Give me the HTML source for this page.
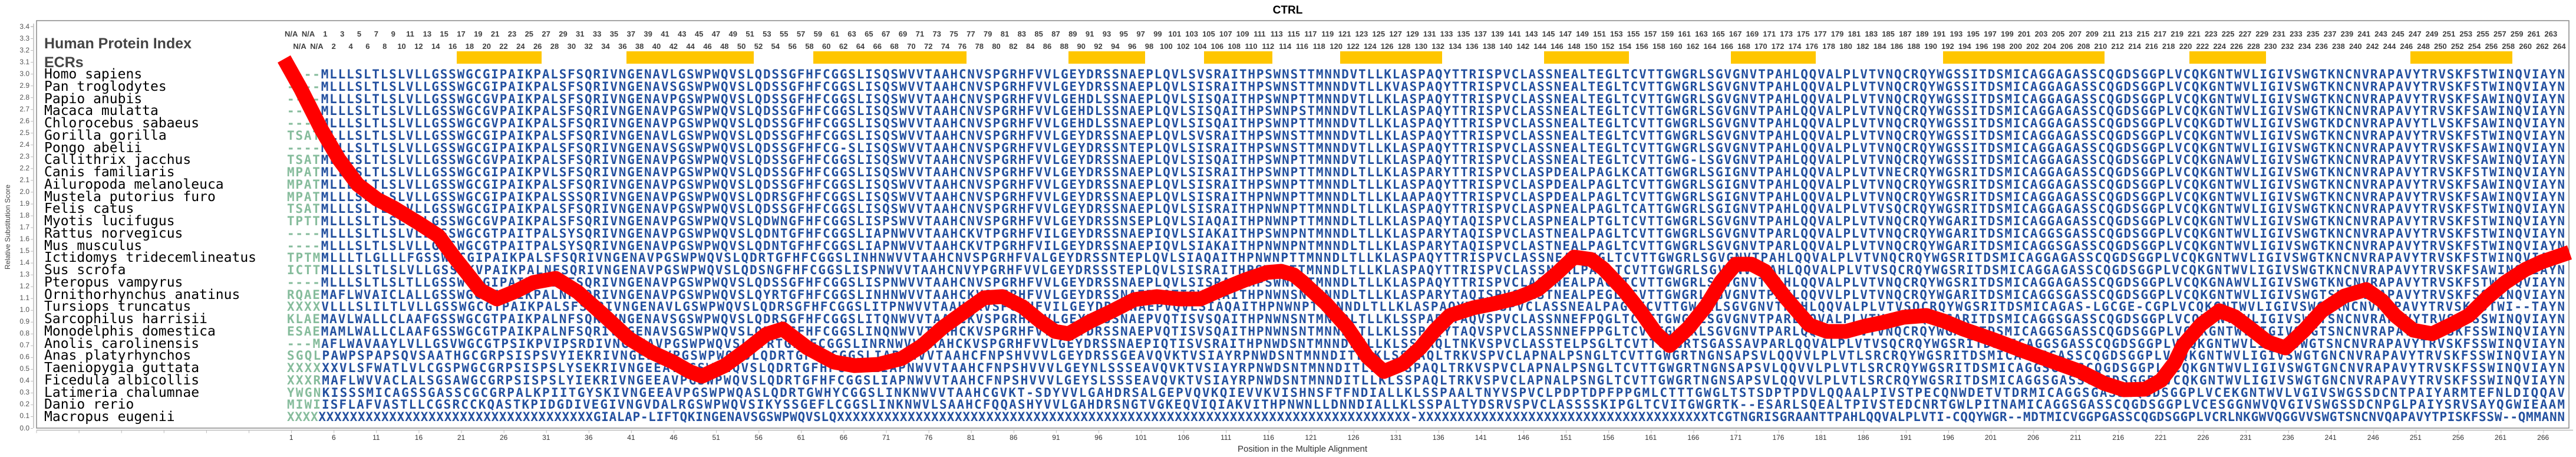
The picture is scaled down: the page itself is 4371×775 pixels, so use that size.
<!DOCTYPE html>
<html><head><meta charset="utf-8">
<style>
html,body{margin:0;padding:0;background:#fff;}
body{width:4371px;height:775px;position:relative;overflow:hidden;font-family:"Liberation Sans",sans-serif;}
.row{position:absolute;display:flex;white-space:nowrap;}
.row span{flex:none;text-align:center;}
.t1,.t2{font-weight:bold;font-size:13px;color:#404040;line-height:16px;}
.t1 span,.t2 span{width:28.84px;}
.bx{font-size:12px;color:#333;line-height:16px;}
.bx span{width:72.1px;}
svg{position:absolute;left:0;top:0;}
</style></head><body>
<svg width="4371" height="775" viewBox="0 0 4371 775" xmlns="http://www.w3.org/2000/svg">
<text x="2185" y="23" font-family="Liberation Sans, sans-serif" font-weight="bold" font-size="19" text-anchor="middle" fill="#000">CTRL</text>
<rect x="62" y="35" width="4297" height="691" fill="none" stroke="#888" stroke-width="1.5"/>
<line x1="57" y1="40" x2="57" y2="726" stroke="#bbb" stroke-width="1.5"/>
<line x1="52" y1="45" x2="57" y2="45" stroke="#bbb"/>
<line x1="54" y1="45" x2="54" y2="727" stroke="#bbb" stroke-width="4" stroke-dasharray="1 19.03"/>
<line x1="62" y1="729.5" x2="4366" y2="729.5" stroke="#bbb" stroke-width="1.5"/>
<line x1="61.5" y1="732" x2="4366" y2="732" stroke="#bbb" stroke-width="5" stroke-dasharray="1 71.1"/>
<g font-family="Liberation Sans, sans-serif" font-size="12" fill="#555" text-anchor="end">
<text x="50" y="49">3.4</text><text x="50" y="69">3.3</text><text x="50" y="89">3.2</text><text x="50" y="109">3.1</text><text x="50" y="129">3.0</text><text x="50" y="149">2.9</text><text x="50" y="169">2.8</text><text x="50" y="189">2.7</text><text x="50" y="209">2.6</text><text x="50" y="229">2.5</text><text x="50" y="249">2.4</text><text x="50" y="269">2.3</text><text x="50" y="289">2.2</text><text x="50" y="309">2.1</text><text x="50" y="329">2.0</text><text x="50" y="349">1.9</text><text x="50" y="369">1.8</text><text x="50" y="389">1.7</text><text x="50" y="409">1.6</text><text x="50" y="429">1.5</text><text x="50" y="449">1.4</text><text x="50" y="469">1.3</text><text x="50" y="489">1.2</text><text x="50" y="509">1.1</text><text x="50" y="529">1.0</text><text x="50" y="549">0.9</text><text x="50" y="569">0.8</text><text x="50" y="589">0.7</text><text x="50" y="609">0.6</text><text x="50" y="629">0.5</text><text x="50" y="649">0.4</text><text x="50" y="669">0.3</text><text x="50" y="689">0.2</text><text x="50" y="709">0.1</text><text x="50" y="730">0.0</text>
</g>
<text transform="translate(17,385) rotate(-90)" font-family="Liberation Sans, sans-serif" font-size="12" fill="#444" text-anchor="middle">Relative Substitution Score</text>
<text x="2210" y="766" font-family="Liberation Sans, sans-serif" font-size="15" fill="#333" text-anchor="middle">Position in the Multiple Alignment</text>
<text x="75" y="82" font-family="Liberation Sans, sans-serif" font-weight="bold" font-size="25" fill="#444">Human Protein Index</text>
<text x="75" y="114" font-family="Liberation Sans, sans-serif" font-weight="bold" font-size="25" fill="#444">ECRs</text>
<g fill="#ffc600">
<rect x="775" y="87" width="144" height="21"/>
<rect x="1063" y="87" width="216" height="21"/>
<rect x="1380" y="87" width="260" height="21"/>
<rect x="1813" y="87" width="130" height="21"/>
<rect x="2043" y="87" width="116" height="21"/>
<rect x="2274" y="87" width="173" height="21"/>
<rect x="2620" y="87" width="144" height="21"/>
<rect x="2937" y="87" width="144" height="21"/>
<rect x="3297" y="87" width="274" height="21"/>
<rect x="3715" y="87" width="130" height="21"/>
<rect x="4090" y="87" width="173" height="21"/>
</g>
<g font-family="DejaVu Sans Mono, monospace" font-size="23" fill="#000">
<text x="75" y="133">Homo sapiens</text>
<text x="75" y="154">Pan troglodytes</text>
<text x="75" y="175">Papio anubis</text>
<text x="75" y="195">Macaca mulatta</text>
<text x="75" y="216">Chlorocebus sabaeus</text>
<text x="75" y="237">Gorilla gorilla</text>
<text x="75" y="258">Pongo abelii</text>
<text x="75" y="278">Callithrix jacchus</text>
<text x="75" y="299">Canis familiaris</text>
<text x="75" y="320">Ailuropoda melanoleuca</text>
<text x="75" y="341">Mustela putorius furo</text>
<text x="75" y="361">Felis catus</text>
<text x="75" y="382">Myotis lucifugus</text>
<text x="75" y="403">Rattus norvegicus</text>
<text x="75" y="424">Mus musculus</text>
<text x="75" y="444">Ictidomys tridecemlineatus</text>
<text x="75" y="465">Sus scrofa</text>
<text x="75" y="486">Pteropus vampyrus</text>
<text x="75" y="507">Ornithorhynchus anatinus</text>
<text x="75" y="527">Tursiops truncatus</text>
<text x="75" y="548">Sarcophilus harrisii</text>
<text x="75" y="569">Monodelphis domestica</text>
<text x="75" y="590">Anolis carolinensis</text>
<text x="75" y="610">Anas platyrhynchos</text>
<text x="75" y="631">Taeniopygia guttata</text>
<text x="75" y="652">Ficedula albicollis</text>
<text x="75" y="673">Latimeria chalumnae</text>
<text x="75" y="693">Danio rerio</text>
<text x="75" y="714">Macropus eugenii</text>
</g>
<g font-family="DejaVu Sans Mono, monospace" font-weight="bold" font-size="21" fill="#23509f">
<text x="487" y="133" textLength="3865" lengthAdjust="spacing"><tspan fill="#86bc9c">----</tspan>MLLLSLTLSLVLLGSSWGCGIPAIKPALSFSQRIVNGENAVLGSWPWQVSLQDSSGFHFCGGSLISQSWVVTAAHCNVSPGRHFVVLGEYDRSSNAEPLQVLSVSRAITHPSWNSTTMNNDVTLLKLASPAQYTTRISPVCLASSNEALTEGLTCVTTGWGRLSGVGNVTPAHLQQVALPLVTVNQCRQYWGSSITDSMICAGGAGASSCQGDSGGPLVCQKGNTWVLIGIVSWGTKNCNVRAPAVYTRVSKFSTWINQVIAYN</text>
<text x="487" y="154" textLength="3865" lengthAdjust="spacing"><tspan fill="#86bc9c">----</tspan>MLLLSLTLSLVLLGSSWGCGIPAIKPALSFSQRIVNGENAVSGSWPWQVSLQDSSGFHFCGGSLISQSWVVTAAHCNVSPGRHFVVLGEYDRSSNAEPLQVLSISRAITHPSWNSTTMNNDVTLLKVASPAQYTTRISPVCLASSNEALTEGLTCVTTGWGRLSGVGNVTPAHLQQVALPLVTVNQCRQYWGSSITDSMICAGGAGASSCQGDSGGPLVCQKGNTWVLIGIVSWGTKNCNVRAPAVYTRVSKFSTWINQVIAYN</text>
<text x="487" y="175" textLength="3865" lengthAdjust="spacing"><tspan fill="#86bc9c">----</tspan>MLLLSLTLSLVLLGSSWGCGVPAIKPALSFSQRIVNGENAVPGSWPWQVSLQDSSGFHFCGGSLISQSWVVTAAHCNVSPGRHFVVLGEHDLSSNAEPLQVLSISQAITHPSWNPTTMNNDVTLLKLASPAQYTTRISPVCLASSNEALTEGLTCVTTGWGRLSGVGNVTPAHLQQVALPLVTVNQCRQYWGSSITDSMICAGGAGASSCQGDSGGPLVCQKGNTWVLIGIVSWGTKNCNVRAPAVYTRVSKFSAWINQVIAYN</text>
<text x="487" y="195" textLength="3865" lengthAdjust="spacing"><tspan fill="#86bc9c">----</tspan>MLLLSLTLSLVLLGSSWGCGVPAIKPALSFSQRIVNGENAVPGSWPWQVSLQDSSGFHFCGGSLISQSWVVTAAHCNVSPGRHFVVLGEHDLSSNAEPLQVLSISQAITHPSWNPSTMNNDVTLLKLASPAQYTTRISPVCLASSNEALTEGLTCVTTGWGRLSGVGNVTPAHLQQVALPLVTVNQCRQYWGSSITDSMICAGGAGASSCQGDSGGPLVCQKGNTWVLIGIVSWGTKNCNVRAPAVYTRVSKFSAWINQVIAYN</text>
<text x="487" y="216" textLength="3865" lengthAdjust="spacing"><tspan fill="#86bc9c">----</tspan>MLLLSLTLSLVLLGSSWGCGVPAIKPALSFSQRIVNGENAVPGSWPWQVSLQDSSGFHFCGGSLISQSWVVTAAHCNVSPGRHFVVLGEHDLSSNAEPLQVLSISQAITHPSWNPTTMNNDVTLLKLASPAQYTTRISPVCLASSNEALTEGLTCVTTGWGRLSGVGNVTPAHLQQVALPLVTVNQCRQYWGSSITDSMICAGGAGASSCQGDSGGPLVCQKGDTWVLIGIVSWGTKDCNVRAPAVYTLVSKFSAWINQVIAYN</text>
<text x="487" y="237" textLength="3865" lengthAdjust="spacing"><tspan fill="#86bc9c">TSAT</tspan>MLLLSLTLSLVLLGSSWGCGIPAIKPALSFSQRIVNGENAVLGSWPWQVSLQDSSGFHFCGGSLISQSWVVTAAHCNVSPGRHFVVLGEYDRSSNAEPLQVLSVSRAITHPSWNSTTMNNDVTLLKLASPAQYTTRISPVCLASSNEALTEGLTCVTTGWGRLSGVGNVTPAHLQQVALPLVTVNQCRQYWGSSITDSMICAGGAGASSCQGDSGGPLVCQKGNTWVLIGIVSWGTKNCNVRAPAVYTRVSKFSTWINQVIAYN</text>
<text x="487" y="258" textLength="3865" lengthAdjust="spacing"><tspan fill="#86bc9c">----</tspan>MLLLSLTLSLVLLGSSWGCGIPAIKPALSFSQRIVNGENAVSGSWPWQVSLQDSSGFHFCG-SLISQSWVVTAAHCNVSPGRHFVVLGEYDRSSNTEPLQVLSISRAITHPSWNSTTMNNDVTLLKLASPAQYTTRISPVCLASSNEALTEGLTCVTTGWGRLSGVGNVTPAHLQQVALPLVTVNQCRQYWGSSITDSMICAGGAGASSCQGDSGGPLVCQKGNTWVLIGIVSWGTKNCNVRAPAVYTRVSKFSAWINQVIAYN</text>
<text x="487" y="278" textLength="3865" lengthAdjust="spacing"><tspan fill="#86bc9c">TSAT</tspan>MLLLSLTLSLVLLGSSWGCGVPAIKPALSFSQRIVNGENAVPGSWPWQVSLQDSSGFHFCGGSLISQSWVVTAAHCNVSPGRHFVVLGEYDRSSNAEPLQVLSISQAITHPSWNPTTMNNDVTLLKLASPAQYTTRISPVCLASSNEALTEGLTCVTTGWG-LSGVGNVTPAHLQQVALPLVTVNQCRQYWGSSITDSMICAGGAGASSCQGDSGGPLVCQKGNAWVLIGIVSWGTKNCNVRAPAVYTRVSKFSAWINQVIAYN</text>
<text x="487" y="299" textLength="3865" lengthAdjust="spacing"><tspan fill="#86bc9c">MPAT</tspan>MLLLSLTLSLVLLGSSWGCGIPAIKPVLSFSQRIVNGENAVPGSWPWQVSLQDSSGFHFCGGSLISQSWVVTAAHCNVSPGRHFVVLGEYDRSSNAEPLQVLSISRAITHPSWNPTTMNNDLTLLKLASPARYTTRISPVCLASPDEALPAGLKCATTGWGRLSGIGNVTPAHLQQVALPLVTVNECRQYWGSRITDSMICAGGAGASSCQGDSGGPLVCQKGNTWVLIGIVSWGTKNCNVRAPAVYTRVSKFSTWINQVIAYN</text>
<text x="487" y="320" textLength="3865" lengthAdjust="spacing"><tspan fill="#86bc9c">MPAT</tspan>MLLLSLTLSLVLLGSSWGCGIPAIKPALSFSQRIVNGENAVPGSWPWQVSLQDSSGFHFCGGSLISQSWVVTAAHCNVSPGRHFVVLGEYDRSSNAEPLQVLSISRAITHPSWNPTTMNNDLTLLKLASPAQYTTRISPVCLASPDEALPAGLTCVTTGWGRLSGIGNVTPAHLQQVALPLVTVNQCRQYWGSRITDSMICAGGAGASSCQGDSGGPLVCQKGNTWVLIGIVSWGTKNCNVRAPAVYTRVSKFSAWINQVIAYN</text>
<text x="487" y="341" textLength="3865" lengthAdjust="spacing"><tspan fill="#86bc9c">MPAT</tspan>MLLLSLTLSLVLLGSSWGCGIPAIKPALSSSQRIVNGENAVPGSWPWQVSLQDRSGFHFCGGSLISQSWVVTAAHCNVSPGRHFVVLGEYDRSSNAEPLQVLSISRAITHPNWNPTTMNNDLTLLKLAAPAQYTTRISPVCLASPDEALPAGLTCVTTGWGRLSGIGNVTPAHLQQVALPLVTVNQCRQYWGSRITDSMICAGGAGASSCQGDSGGPLVCQKGNTWVLIGIVSWGTKNCNVRAPAVYTRVSKFSAWINQVIAYN</text>
<text x="487" y="361" textLength="3865" lengthAdjust="spacing"><tspan fill="#86bc9c">TSAT</tspan>MLLLSLTLSLVLLGSSWGCGIPAIKPALSFSQRIVNGENAVPGSWPWQVSLQDSSGFHFCGGSLISQSWVVTAAHCNVSPGRHFVVLGEYDRSSNAEPLQVLSISRAITHPNWNPTTMNNDLTLLKLASPAQYTTRISPVCLASPNEALPAGLTCATTGWGRLSGIGNVTPAHLQQVALPLVTVSQCRQYWGSRITDSMICAGGAGASSCQGDSGGPLVCQKGNTWVLIGIVSWGTKNCNVRAPAVYTRVSKFSTWINQVIAYN</text>
<text x="487" y="382" textLength="3865" lengthAdjust="spacing"><tspan fill="#86bc9c">TPTT</tspan>MLLLSLTLSLVLLGSSWGCGVPAIKPALSFSQRIVNGENAVPGSWPWQVSLQDWNGFHFCGGSLISPSWVVTAAHCNVSPGRHFVVLGEYDRSSNSEPLQVLSIAQAITHPNWNPTTMNNDLTLLKLASPAQYTAQISPVCLASPNEALPTGLTCVTTGWGRLSGVGNVTPAHLQQVALPLVTVNQCRQYWGARITDSMICAGGAGASSCQGDSGGPLVCQKGNTWVLIGIVSWGTKNCNVRAPAVYTRVSKFSTWINQVIAYN</text>
<text x="487" y="403" textLength="3865" lengthAdjust="spacing"><tspan fill="#86bc9c">----</tspan>MLLLSLTLSLVLLGSSWGCGTPAITPALSYSQRIVNGENAVPGSWPWQVSLQDNTGFHFCGGSLIAPNWVVTAAHCKVTPGRHFVILGEYDRSSNAEPIQVLSIAKAITHPSWNPNTMNNDLTLLKLASPARYTAQISPVCLASTNEALPAGLTCVTTGWGRLSGVGNVTPARLQQVALPLVTVNQCRQYWGARITDSMICAGGSGASSCQGDSGGPLVCQKGNTWVLIGIVSWGTKNCNVRAPAVYTRVSKFSTWINQVIAYN</text>
<text x="487" y="424" textLength="3865" lengthAdjust="spacing"><tspan fill="#86bc9c">----</tspan>MLLLSLTLSLVLLGSSWGCGTPAITPALSYSQRIVNGENAVPGSWPWQVSLQDNTGFHFCGGSLIAPNWVVTAAHCKVTPGRHFVILGEYDRSSNAEPIQVLSIAKAITHPNWNPNTMNNDLTLLKLASPARYTAQISPVCLASTNEALPAGLTCVTTGWGRLSGVGNVTPARLQQVALPLVTVNQCRQYWGARITDSMICAGGSGASSCQGDSGGPLVCQKGNTWVLIGIVSWGTKNCNVRAPAVYTRVSKFSTWINQVIAYN</text>
<text x="487" y="444" textLength="3865" lengthAdjust="spacing"><tspan fill="#86bc9c">TPTM</tspan>MLLLTLGLLLFGSSWGCGIPAIKPALSFSQRIVNGENAVPGSWPWQVSLQDRTGFHFCGGSLINHNWVVTAAHCNVSPGRHFVALGEYDRSSNTEPLQVLSIAQAITHPNWNPTTMNNDLTLLKLASPAQYTTRISPVCLASSNEALPEGLTCVTTGWGRLSGVGNVTPAHLQQVALPLVTVNQCRQYWGSRITDSMICAGGAGASSCQGDSGGPLVCQKGNTWVLIGIVSWGTKNCNVRAPAVYTRVSKFSTWINQVIAYN</text>
<text x="487" y="465" textLength="3865" lengthAdjust="spacing"><tspan fill="#86bc9c">ICTT</tspan>MLLLSLTLSLVLLGSS-KVPAIKPALNFSQRIVNGENAVPGSWPWQVSLQDSNGFHFCGGSLISPNWVVTAAHCNVYPGRHFVVLGEYDRSSSTEPLQVLSISRAITHPSWNPTTMNNDLTLLKLASPAQYTTRISPVCLASSNEALPAGLTCVTTGWGRLSGVGNVTPAHLQQVALPLVTVSQCRQYWGSRITDSMICAGGAGASSCQGDSGGPLVCQKGNTWVLIGIVSWGTKNCNVRAPAVYTRVSKFSAWINQVIAYN</text>
<text x="487" y="486" textLength="3865" lengthAdjust="spacing"><tspan fill="#86bc9c">----</tspan>MLLLSLTLSLTLLGSSWGCGIPAITPALSFSQRIVNGENAVPGSWPWQVSLQDSSGFHFCGGSLISPNWVVTAAHCNVSPGRHFVVLGEYDRSSNAEPLQVLSISRAITHPSWNPTTMNNDLTLLKLASPAQYTTRISPVCLASSNEALPAGLTCVTTGWGRLSGVGNVTPAHLQQVALPLVTVNQCRQYWGSRITDSMICAGGAGASSCQGDSGGPLVCQKGNAWVLIGIVSWGTKNCNVRAPAVYTRVSKFSTWINQVIAYN</text>
<text x="487" y="507" textLength="3865" lengthAdjust="spacing"><tspan fill="#86bc9c">RQAE</tspan>MAFLWVAICLALLGSSWGCGTPAIKPALNFSQRIVNGENAVPGSWPWQVSLQYRTGFHFCGGSLINHNWVVTAAHCKVSPGRHFVVLGEYDRSSNAEPVQTISVSQAITHPNWNSNTMNNDLTLLKLASPARYTAQISPVCLASTNEALPEGLTCVTTGWGRLSGVGNVTPAKLQQVVLPLVTVNQCRQYWGARITDSMICAGGSGASSCQGDSGGPLVCQKGNTWVLIGIVSWGTSNCNVRAPAVYTRVSKFSSWINQVIAYN</text>
<text x="487" y="527" textLength="3865" lengthAdjust="spacing"><tspan fill="#86bc9c">XXXX</tspan>VLLLSLILTLVLLGSSWGCGTPAIKPALSFSQRIVNGENAVLGSWPWQVSLQDRSGFHFCGGSLITPNWVVTAAHCKVSPGRHFVILGEYDRSSNAEPVQVLSIAQAITHPNWNPTTMNNDLTLLKLASPAQYTAQISPVCLASSNEALPAGLTCVTTGWGRLSGVGNVTPAHLQQVALPLVTVSQCRQYWGSRITDSMICAGAS-LGCGE-CGPLVCQKGNTWVLIGIVSWGTKNCNVRAPAVYTRVSKFSTWI--TAYN</text>
<text x="487" y="548" textLength="3865" lengthAdjust="spacing"><tspan fill="#86bc9c">KLAE</tspan>MAVLWALLCLAAFGSSWGCGTPAIKPALNFSQRIVNGENAVSGSWPWQVSLQDRSGFHFCGGSLITQNWVVTAAHCKVSPGRHFVVLGEYDRSSNAEPVQTISVSQAITHPNWNSNTMNNDLTLLKLSSPARYTAQVSPVCLASSNNEFPQGLTCVTTGWGRLSGVGNVTPARLQQVALPLVTVNQCRQYWGARITDSMICAGGSGASSCQGDSGGPLVCQKGNTWVLIGIVSWGTSNCNVRAPAVYTRVSKFSSWINQVIAYN</text>
<text x="487" y="569" textLength="3865" lengthAdjust="spacing"><tspan fill="#86bc9c">ESAE</tspan>MAMLWALLCLAAFGSSWGCGTPAIKPALNFSQRIVNGENAVSGSWPWQVSLQDRSGFHFCGGSLINQNWVVTAAHCKVSPGRHFVVLGEYDRSSNAEPVQTISVSQAITHPNWNSNTMNNDLTLLKLSSPAQYTAQVSPVCLASSNNEFPPGLTCVTTGWGRLSGVGNVTPARLQQVALPLVTVNQCRQYWGARITDSMICAGGSGASSCQGDSGGPLVCQKGNTWVLIGIVSWGTSNCNVRAPAVYTRVSKFSSWINQVIAYN</text>
<text x="487" y="590" textLength="3865" lengthAdjust="spacing"><tspan fill="#86bc9c">---M</tspan>AFLWAVAAYLVLLGSVWGCGTPSIKPVIPSRDIVNGEEAVPGSWPWQVSLQYRTGFHFCGGSLINRNWVVTAAHCKVSPGRHFVVLGEYDRSSNAEPIQTISVSRAITHPNWDSNTMNNDLTLLKLSSPAQLTNKVSPVCLASSTELPSGLTCVTTGWGRTSGASSAVPARLQQVALPLVTVSQCRQYWGSRITDSMICAGGSGASSCQGDSGGPLVCQKGNTWVLIGIVSWGTSNCNVRAPAVYTRVSKFSSWINQVIAYN</text>
<text x="487" y="610" textLength="3865" lengthAdjust="spacing"><tspan fill="#86bc9c">SGQL</tspan>PAWPSPAPSQVSAATHGCGRPSISPSVYIEKRIVNGEEAVPGSWPWQVSLQDRTGFHFCGGSLIAPNWVVTAAHCFNPSHVVVLGEYDRSSGEAVQVKTVSIAYRPNWDSNTMNNDITLLKLSSPAQLTRKVSPVCLAPNALPSNGLTCVTTGWGRTNGNSAPSVLQQVVLPLVTLSRCRQYWGSRITDSMICAGGSGASSCQGDSGGPLVCQKGNTWVLIGIVSWGTGNCNVRAPAVYTRVSKFSSWINQVIAYN</text>
<text x="487" y="631" textLength="3865" lengthAdjust="spacing"><tspan fill="#86bc9c">XXXX</tspan>XXVLSFWATLVLCGSPWGCGRPSISPSLYSEKRIVNGEEAVPGSWPWQVSLQDRTGFHFCGGSLIAPNWVVTAAHCFNPSHVVVLGEYNLSSSEAVQVKTVSIAYRPNWDSNTMNNDITLLKLSSPAQLTRKVSPVCLAPNALPSNGLTCVTTGWGRTNGNSAPSVLQQVVLPLVTLSRCRQYWGSRITDSMICAGGSGASSCQGDSGGPLVCQKGNTWVLIGIVSWGTGNCNVRAPAVYTRVSKFSSWINQVIAYN</text>
<text x="487" y="652" textLength="3865" lengthAdjust="spacing"><tspan fill="#86bc9c">XXXR</tspan>MAFLWVVACLALSGSAWGCGRPSISPSLYIEKRIVNGEEAVPGSWPWQVSLQDRTGFHFCGGSLIAPNWVVTAAHCFNPSHVVVLGEYSLSSSEAVQVKTVSIAYRPNWDSNTMNNDITLLKLSSPAQLTRKVSPVCLAPNALPSNGLTCVTTGWGRTNGNSAPSVLQQVVLPLVTLSRCRQYWGSRITDSMICAGGSGASSCQGDSGGPLVCQKGNTWVLIGIVSWGTGNCNVRAPAVYTRVSKFSSWINQVIAYN</text>
<text x="487" y="673" textLength="3865" lengthAdjust="spacing"><tspan fill="#86bc9c">YWGN</tspan>KISSSMICAGSSGASSCGCGRPALKPIITGYSKIVNGEEAVPGSWPWQASLQDRTGWHYCGGSLINKNWVVTAAHCGVKT-SDYVVLGAHDRSALGEPVQVKQIEVVKVISHNSFTFNDIALLKLSSPAALTNYVSPVCLPDPTDPFPPGMLCTTTGWGLTSTSDPTPDVLQQAALPIVSTPECQNWDETVTDRMICAGGSGASSCQGDSGGPLVCEKGNTWVLVGIVSWGSSDCNTPAIYARMTEFNLDIQQAV</text>
<text x="487" y="693" textLength="3865" lengthAdjust="spacing"><tspan fill="#86bc9c">MIWI</tspan>ISFLAFVASTLLCGSRCCKQASTKPIDGDIVEGIVNGVDALRGSWPWQVSIKYSSGEFLCGGSLINKNWVLSAAHCFQQASHYVVLGAHDRSNGTVGKEQVIQIAKVITHPNWNLLDNNDIALLKLSSPALTYDSRVSPVCLASSSSKIPGLTCVITGWGRTK--ESARLSQEALTPIVSTEDCNRTGWLPITNAMICAGGSGASSCQGDSGGPLVCESGGNWVQVGIVSWGSSDCNPGLPAIYSRVSAYQGWIEAAM</text>
<text x="487" y="714" textLength="3865" lengthAdjust="spacing"><tspan fill="#86bc9c">XXXX</tspan>XXXXXXXXXXXXXXXXXXXXXXXXXXXXXXXXXXXGIALAP-LIFTQKINGENAVSGSWPWQVSLQXXXXXXXXXXXXXXXXXXXXXXXXXXXXXXXXXXXXXXXXXXXXXXXXXXXXXXXXXXXXXXXXXXXXXXXXX-XXXXXXXXXXXXXXXXXXXXXXXXXXXXXXXXXXXXXTCGTNGRISGRAANTTPAHLQQVALPLVTI-CQQYWGR--MDTMICVGGPGASSCQGDSGGPLVCRLNKGWVQGGVVSWGTSNCNVQAPAVYTPISKFSSW--QMMANN</text>
</g>
<polyline fill="none" stroke="#ff0000" stroke-width="25" stroke-linejoin="round" stroke-linecap="butt" points="482,100 510,150 545,219 575,270 607,313 640,338 669,353 710,378 744,400 770,435 793,464 815,492 843,507 875,494 905,479 943,472 980,495 1025,535 1067,574 1105,597 1142,614 1170,630 1191,638 1230,620 1266,594 1300,567 1328,558 1370,590 1415,614 1450,620 1490,618 1530,608 1565,586 1600,555 1639,527 1670,505 1701,503 1735,520 1763,543 1790,562 1813,566 1850,545 1888,527 1925,508 1963,503 2000,507 2037,507 2075,490 2112,475 2150,462 2174,460 2195,466 2211,479 2250,515 2286,555 2320,605 2348,630 2380,617 2410,590 2435,560 2460,535 2500,522 2535,515 2575,505 2609,491 2640,465 2671,436 2700,440 2721,456 2755,492 2783,527 2810,565 2833,586 2865,556 2895,519 2920,478 2945,448 2972,448 2995,460 3030,505 3070,551 3100,562 3132,562 3165,553 3194,547 3230,538 3269,535 3300,545 3331,558 3380,575 3430,594 3480,612 3530,630 3570,650 3604,661 3640,660 3667,645 3690,615 3704,586 3735,550 3766,527 3792,537 3816,555 3848,580 3878,590 3910,560 3940,527 3978,502 4015,491 4042,510 4064,535 4095,560 4127,566 4160,550 4189,535 4220,505 4251,479 4285,457 4313,444 4360,428"/>
</svg>
<div class="row t1" style="left:479.8px;top:50px;"><span>N/A</span><span>N/A</span><span>1</span><span>3</span><span>5</span><span>7</span><span>9</span><span>11</span><span>13</span><span>15</span><span>17</span><span>19</span><span>21</span><span>23</span><span>25</span><span>27</span><span>29</span><span>31</span><span>33</span><span>35</span><span>37</span><span>39</span><span>41</span><span>43</span><span>45</span><span>47</span><span>49</span><span>51</span><span>53</span><span>55</span><span>57</span><span>59</span><span>61</span><span>63</span><span>65</span><span>67</span><span>69</span><span>71</span><span>73</span><span>75</span><span>77</span><span>79</span><span>81</span><span>83</span><span>85</span><span>87</span><span>89</span><span>91</span><span>93</span><span>95</span><span>97</span><span>99</span><span>101</span><span>103</span><span>105</span><span>107</span><span>109</span><span>111</span><span>113</span><span>115</span><span>117</span><span>119</span><span>121</span><span>123</span><span>125</span><span>127</span><span>129</span><span>131</span><span>133</span><span>135</span><span>137</span><span>139</span><span>141</span><span>143</span><span>145</span><span>147</span><span>149</span><span>151</span><span>153</span><span>155</span><span>157</span><span>159</span><span>161</span><span>163</span><span>165</span><span>167</span><span>169</span><span>171</span><span>173</span><span>175</span><span>177</span><span>179</span><span>181</span><span>183</span><span>185</span><span>187</span><span>189</span><span>191</span><span>193</span><span>195</span><span>197</span><span>199</span><span>201</span><span>203</span><span>205</span><span>207</span><span>209</span><span>211</span><span>213</span><span>215</span><span>217</span><span>219</span><span>221</span><span>223</span><span>225</span><span>227</span><span>229</span><span>231</span><span>233</span><span>235</span><span>237</span><span>239</span><span>241</span><span>243</span><span>245</span><span>247</span><span>249</span><span>251</span><span>253</span><span>255</span><span>257</span><span>259</span><span>261</span><span>263</span></div>
<div class="row t2" style="left:494.2px;top:71px;"><span>N/A</span><span>N/A</span><span>2</span><span>4</span><span>6</span><span>8</span><span>10</span><span>12</span><span>14</span><span>16</span><span>18</span><span>20</span><span>22</span><span>24</span><span>26</span><span>28</span><span>30</span><span>32</span><span>34</span><span>36</span><span>38</span><span>40</span><span>42</span><span>44</span><span>46</span><span>48</span><span>50</span><span>52</span><span>54</span><span>56</span><span>58</span><span>60</span><span>62</span><span>64</span><span>66</span><span>68</span><span>70</span><span>72</span><span>74</span><span>76</span><span>78</span><span>80</span><span>82</span><span>84</span><span>86</span><span>88</span><span>90</span><span>92</span><span>94</span><span>96</span><span>98</span><span>100</span><span>102</span><span>104</span><span>106</span><span>108</span><span>110</span><span>112</span><span>114</span><span>116</span><span>118</span><span>120</span><span>122</span><span>124</span><span>126</span><span>128</span><span>130</span><span>132</span><span>134</span><span>136</span><span>138</span><span>140</span><span>142</span><span>144</span><span>146</span><span>148</span><span>150</span><span>152</span><span>154</span><span>156</span><span>158</span><span>160</span><span>162</span><span>164</span><span>166</span><span>168</span><span>170</span><span>172</span><span>174</span><span>176</span><span>178</span><span>180</span><span>182</span><span>184</span><span>186</span><span>188</span><span>190</span><span>192</span><span>194</span><span>196</span><span>198</span><span>200</span><span>202</span><span>204</span><span>206</span><span>208</span><span>210</span><span>212</span><span>214</span><span>216</span><span>218</span><span>220</span><span>222</span><span>224</span><span>226</span><span>228</span><span>230</span><span>232</span><span>234</span><span>236</span><span>238</span><span>240</span><span>242</span><span>244</span><span>246</span><span>248</span><span>250</span><span>252</span><span>254</span><span>256</span><span>258</span><span>260</span><span>262</span><span>264</span></div>
<div class="row bx" style="left:458.15px;top:734px;"><span>1</span><span>6</span><span>11</span><span>16</span><span>21</span><span>26</span><span>31</span><span>36</span><span>41</span><span>46</span><span>51</span><span>56</span><span>61</span><span>66</span><span>71</span><span>76</span><span>81</span><span>86</span><span>91</span><span>96</span><span>101</span><span>106</span><span>111</span><span>116</span><span>121</span><span>126</span><span>131</span><span>136</span><span>141</span><span>146</span><span>151</span><span>156</span><span>161</span><span>166</span><span>171</span><span>176</span><span>181</span><span>186</span><span>191</span><span>196</span><span>201</span><span>206</span><span>211</span><span>216</span><span>221</span><span>226</span><span>231</span><span>236</span><span>241</span><span>246</span><span>251</span><span>256</span><span>261</span><span>266</span></div>
</body></html>
